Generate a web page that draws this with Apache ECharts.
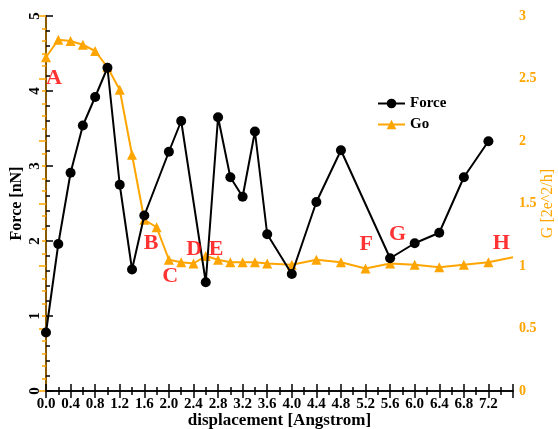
<!DOCTYPE html>
<html>
<head>
<meta charset="utf-8">
<script src="https://cdn.jsdelivr.net/npm/echarts@6/dist/echarts.min.js"></script>
<style>
  html, body { margin: 0; padding: 0; background: #fff; }
  #chart { width: 558px; height: 429px; }
</style>
</head>
<body>
<div id="chart"></div>
<script>
// 数据
const forceX = [0.0, 0.2, 0.4, 0.6, 0.8, 1.0, 1.2, 1.4, 1.6, 2.0, 2.2, 2.6, 2.8, 3.0, 3.2, 3.4, 3.6, 4.0, 4.4, 4.8, 5.6, 6.0, 6.4, 6.8, 7.2];
const forceY = [0.78, 1.96, 2.91, 3.54, 3.92, 4.31, 2.75, 1.62, 2.34, 3.19, 3.60, 1.45, 3.65, 2.85, 2.59, 3.46, 2.09, 1.56, 2.52, 3.21, 1.77, 1.97, 2.11, 2.85, 3.33];

const goX = [0.0, 0.2, 0.4, 0.6, 0.8, 1.0, 1.2, 1.4, 1.6, 1.8, 2.0, 2.2, 2.4, 2.6, 2.8, 3.0, 3.2, 3.4, 3.6, 4.0, 4.4, 4.8, 5.2, 5.6, 6.0, 6.4, 6.8, 7.2, 7.6];
const goY = [2.67, 2.81, 2.80, 2.77, 2.72, 2.59, 2.41, 1.89, 1.37, 1.31, 1.05, 1.03, 1.02, 1.08, 1.05, 1.03, 1.03, 1.03, 1.02, 1.01, 1.05, 1.03, 0.98, 1.02, 1.01, 0.99, 1.01, 1.03, 1.07];

// 标注字母 (x, G 值)
const noteText = ['A', 'B', 'C', 'D', 'E', 'F', 'G', 'H'];
const noteX = [0.13, 1.71, 2.02, 2.41, 2.77, 5.21, 5.72, 7.41];
const noteY = [2.50, 1.18, 0.92, 1.13, 1.13, 1.17, 1.25, 1.18];

const font = 'Liberation Serif';
const orange = '#ffa500';

const myChart = echarts.init(document.getElementById('chart'));

const option = {
  animation: false,
  textStyle: { fontFamily: font },
  grid: { left: 46, right: 45, top: 16, bottom: 38, containLabel: false, outerBoundsMode: 'none' },
  legend: {
    orient: 'vertical',
    left: 372,
    top: 91,
    itemWidth: 27,
    itemHeight: 12,
    itemGap: 6,
    textStyle: { fontFamily: font, fontWeight: 'bold', fontSize: 15, color: '#000' },
    data: ['Force', 'Go']
  },
  xAxis: [
    {
      type: 'value',
      min: 0,
      max: 7.6,
      interval: 0.4,
      name: 'displacement [Angstrom]',
      nameLocation: 'middle',
      nameMoveOverlap: false,
      nameGap: 21,
      nameTextStyle: { fontFamily: font, fontWeight: 'bold', fontSize: 17, color: '#000' },
      axisLine: { lineStyle: { color: '#000', width: 1.5 } },
      axisTick: { inside: true, length: 7, lineStyle: { color: '#000', width: 1.5 } },
      minorTick: { show: true, splitNumber: 2, length: 4, lineStyle: { color: '#000', width: 1.5 } },
      axisLabel: {
        margin: 6,
        fontFamily: font, fontWeight: 'bold', fontSize: 15, color: '#000',
        formatter: v => (v > 7.5 ? '' : v.toFixed(1))
      },
      splitLine: { show: false }
    },
    {
      type: 'value',
      position: 'top',
      min: 0,
      max: 7.6,
      interval: 0.4,
      axisLine: { lineStyle: { color: '#000', width: 1.5 } },
      axisTick: { inside: true, length: 7, lineStyle: { color: '#000', width: 1.5 } },
      minorTick: { show: true, splitNumber: 2, length: 4, lineStyle: { color: '#000', width: 1.5 } },
      axisLabel: { show: false },
      splitLine: { show: false }
    }
  ],
  yAxis: [
    {
      type: 'value',
      min: 0,
      max: 5,
      interval: 1,
      name: 'Force [nN]',
      nameLocation: 'middle',
      nameMoveOverlap: false,
      nameRotate: 90,
      nameGap: 21,
      nameTextStyle: { fontFamily: font, fontWeight: 'bold', fontSize: 16, color: '#000' },
      axisLine: { show: true, lineStyle: { color: '#000', width: 1.5 } },
      axisTick: { inside: true, length: 7, lineStyle: { color: '#000', width: 1.5 } },
      minorTick: { show: true, splitNumber: 5, length: 4, lineStyle: { color: '#000', width: 1.5 } },
      axisLabel: { rotate: 90, margin: 3, fontFamily: font, fontWeight: 'bold', fontSize: 15, color: '#000' },
      splitLine: { show: false }
    },
    {
      type: 'value',
      min: 0,
      max: 3,
      interval: 0.5,
      position: 'right',
      name: 'G [2e^2/h]',
      nameLocation: 'middle',
      nameMoveOverlap: false,
      nameRotate: 90,
      nameGap: 27,
      nameTextStyle: { fontFamily: font, fontSize: 16, color: orange },
      axisLine: { show: true, lineStyle: { color: '#8a5a00', width: 2 } },
      axisTick: { inside: true, length: 7, lineStyle: { color: orange, width: 1.5 } },
      minorTick: { show: true, splitNumber: 5, length: 4, lineStyle: { color: orange, width: 1.5 } },
      axisLabel: { margin: 6, fontFamily: font, fontWeight: 'bold', fontSize: 14, color: orange },
      splitLine: { show: false }
    }
  ],
  series: [
    {
      name: 'Force',
      type: 'line',
      xAxisIndex: 0,
      yAxisIndex: 0,
      data: forceX.map((x, i) => [x, forceY[i]]),
      symbol: 'circle',
      symbolSize: 10,
      lineStyle: { color: '#000', width: 2 },
      itemStyle: { color: '#000' },
      z: 3
    },
    {
      name: 'Go',
      type: 'line',
      xAxisIndex: 0,
      yAxisIndex: 1,
      data: goX.map((x, i) => (x > 7.5 ? { value: [x, goY[i]], symbol: 'none' } : [x, goY[i]])),
      symbol: 'triangle',
      symbolSize: 10,
      lineStyle: { color: orange, width: 2 },
      itemStyle: { color: orange },
      z: 2
    },
    {
      name: 'notes',
      type: 'scatter',
      xAxisIndex: 0,
      yAxisIndex: 1,
      data: noteX.map((x, i) => ({ value: [x, noteY[i]], name: noteText[i] })),
      symbolSize: 0,
      silent: true,
      label: {
        show: true,
        position: 'inside',
        formatter: p => p.name,
        fontFamily: font,
        fontWeight: 'bold',
        fontSize: 22,
        color: '#ff0000'
      },
      z: 4
    }
  ]
};

myChart.setOption(option);
window.addEventListener('resize', () => myChart.resize());
</script>
</body>
</html>
